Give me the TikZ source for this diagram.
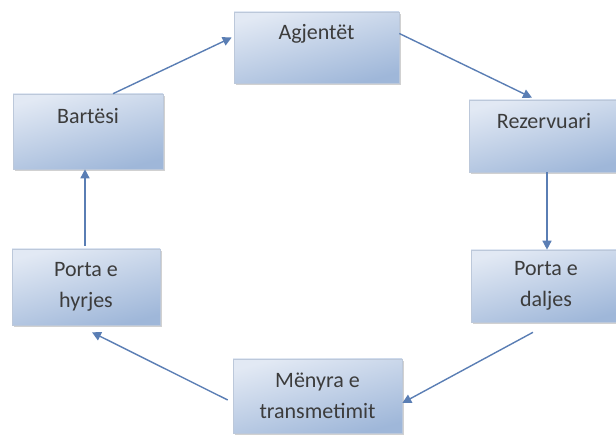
\documentclass[tikz,border=0pt]{standalone}
\usepackage{fontspec}
\setmainfont{Carlito}
\usetikzlibrary{arrows.meta,shadows}
\definecolor{boxtop}{HTML}{E2E9F4}
\definecolor{boxmid}{HTML}{F0F4F9}
\definecolor{boxbot}{HTML}{9FB7D9}
\definecolor{boxline}{HTML}{BCC8DA}
\definecolor{flow}{HTML}{5A7EB4}
\definecolor{ink}{HTML}{3C3C3C}
\tikzset{
  stage/.style={draw=boxline, line width=.6pt, top color=boxtop, middle color=boxmid,
    bottom color=boxbot, shading angle=15, align=center, text=ink,
    minimum width=150pt, minimum height=74pt, inner sep=0pt,
    font=\fontsize{22pt}{31pt}\selectfont,
    drop shadow={shadow xshift=1.5pt, shadow yshift=-2.5pt, fill=black!40, opacity=.45}},
  flowarrow/.style={draw=flow, line width=1.4pt, -{Triangle[width=9pt,length=9pt]}}
}
\begin{document}
\begin{tikzpicture}[x=1pt,y=-1pt]
\useasboundingbox (0,0) rectangle (616,443);
\node[stage,minimum width=165pt,minimum height=71pt] (agj) at (316.5,47.5) {Agjentët\\~};
\node[stage,minimum height=75pt] (bar) at (88,131.5) {Bartësi\\~};
\node[stage,minimum height=72pt] (rez) at (544,136) {Rezervuari\\~};
\node[stage,minimum width=148pt,minimum height=76pt] (hyr) at (86,287) {Porta e\\hyrjes};
\node[stage,minimum height=72pt] (dal) at (546,286) {Porta e\\daljes};
\node[stage,minimum width=169pt] (men) at (317.5,396) {Mënyra e\\transmetimit};
% cikli
\draw[flowarrow] ([xshift=25pt]bar.north) -- ([xshift=-2pt,yshift=10pt]agj.west);
\draw[flowarrow] ([yshift=14pt]agj.east) -- ([xshift=-12pt,yshift=2pt]rez.north);
\draw[flowarrow] ([xshift=3pt]rez.south) -- ([xshift=1pt]dal.north);
\draw[flowarrow] ([xshift=-13pt,yshift=-10pt]dal.south) -- ([yshift=-7pt]men.east);
\draw[flowarrow] ([xshift=-5pt,yshift=-4pt]men.west) -- ([xshift=6pt,yshift=-7pt]hyr.south);
\draw[flowarrow] ([xshift=-1pt,yshift=3pt]hyr.north) -- ([xshift=-3pt]bar.south);
\end{tikzpicture}
\end{document}
